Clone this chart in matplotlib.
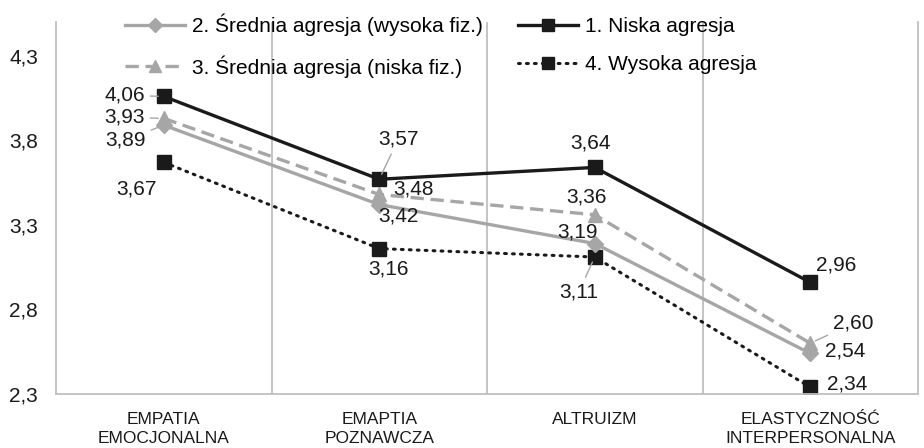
import matplotlib
matplotlib.use("Agg")
import matplotlib.pyplot as plt
from matplotlib.ticker import FixedLocator, FuncFormatter

plt.rcParams['font.family'] = ['Liberation Sans', 'DejaVu Sans']

# dane
categories = ["EMPATIA\nEMOCJONALNA", "EMAPTIA\nPOZNAWCZA", "ALTRUIZM",
              "ELASTYCZNOŚĆ\nINTERPERSONALNA"]
niska = [4.06, 3.57, 3.64, 2.96]
srednia_wysoka_fiz = [3.89, 3.42, 3.19, 2.54]
srednia_niska_fiz = [3.93, 3.48, 3.36, 2.60]
wysoka = [3.67, 3.16, 3.11, 2.34]
y_ticks = [2.3, 2.8, 3.3, 3.8, 4.3]

labels = ["1. Niska agresja", "2. Średnia agresja (wysoka fiz.)",
          "3. Średnia agresja (niska fiz.)", "4. Wysoka agresja"]

GRAY = "#a6a6a6"
BLACK = "#1a1a1a"
GRID = "#bfbfbf"
TXT = "#1a1a1a"
FS = 15

fig = plt.figure(figsize=(9.24, 4.48), dpi=100)
ax = fig.add_axes([56 / 924, 1 - 394 / 448, 862 / 924, 372 / 448])

x = list(range(len(categories)))

l1, = ax.plot(x, niska, color=BLACK, lw=2.4, marker='s', ms=9.5, zorder=5)
l2, = ax.plot(x, srednia_wysoka_fiz, color=GRAY, lw=2.4, marker='D', ms=8, zorder=4)
l3, = ax.plot(x, srednia_niska_fiz, color=GRAY, lw=2.4, ls=(0, (4, 2)),
              marker='^', ms=10, zorder=3)
l4, = ax.plot(x, wysoka, color=BLACK, lw=2.2, ls=(0, (0.6, 2.0)),
              dash_capstyle='round', marker='s', ms=9.5, zorder=2)

# etykiety danych: przesunięcia w pikselach (dx, dy, ha, linia odniesienia)
offsets = {
    0: [(-19, 1, 'right', True), (19, 40, 'center', True), (-4, 24, 'center', False), (26, 17, 'center', False)],
    1: [(-18, -15, 'right', True), (19, -11, 'center', False), (-17, 12, 'center', False), (35, 2, 'center', False)],
    2: [(-19, 1, 'right', True), (34, 5, 'center', False), (-8, 18, 'center', False), (43, 20, 'center', True)],
    3: [(-27, -27, 'center', False), (9, -20, 'center', False), (-16, -35, 'center', True), (37, 3, 'center', False)],
}
series = [niska, srednia_wysoka_fiz, srednia_niska_fiz, wysoka]
for si, vals in enumerate(series):
    for ci, v in enumerate(vals):
        dx, dy, ha, leader = offsets[si][ci]
        ap = None
        if leader:
            ap = dict(arrowstyle='-', color=GRAY, lw=1.0, shrinkA=2, shrinkB=4)
        ax.annotate(f"{v:.2f}".replace('.', ','), (ci, v), xytext=(dx, dy),
                    textcoords='offset pixels', ha=ha, va='center',
                    fontsize=FS, color=TXT, arrowprops=ap, zorder=6)

ax.set_xlim(-0.5, 3.5)
ax.set_ylim(2.3, 4.5)
ax.set_xticks(x)
ax.set_xticklabels(categories, fontsize=12.5, color=TXT, linespacing=1.3)
ax.xaxis.set_minor_locator(FixedLocator([0.5, 1.5, 2.5]))
ax.grid(True, which='minor', axis='x', color=GRID, lw=1.3)
ax.set_yticks(y_ticks)
ax.yaxis.set_major_formatter(FuncFormatter(lambda v, p: f"{v:.1f}".replace('.', ',')))
ax.tick_params(axis='y', length=0, pad=13, labelsize=FS, labelcolor=TXT)
ax.tick_params(axis='x', which='both', length=0, pad=13)

for s in ['left', 'right', 'bottom']:
    ax.spines[s].set_color(GRID)
    ax.spines[s].set_linewidth(1.3)
ax.spines['top'].set_visible(False)

fig.legend([l2, l3, l1, l4], [labels[1], labels[2], labels[0], labels[3]],
           ncol=2, loc='upper left', bbox_to_anchor=(125 / 924, 1 - 14 / 448),
           frameon=False, fontsize=FS, handlelength=2.9, handletextpad=0.3,
           columnspacing=1.7, labelspacing=0.9, borderpad=0, borderaxespad=0,
           markerscale=0.9)

fig.savefig("out.png", dpi=100)
